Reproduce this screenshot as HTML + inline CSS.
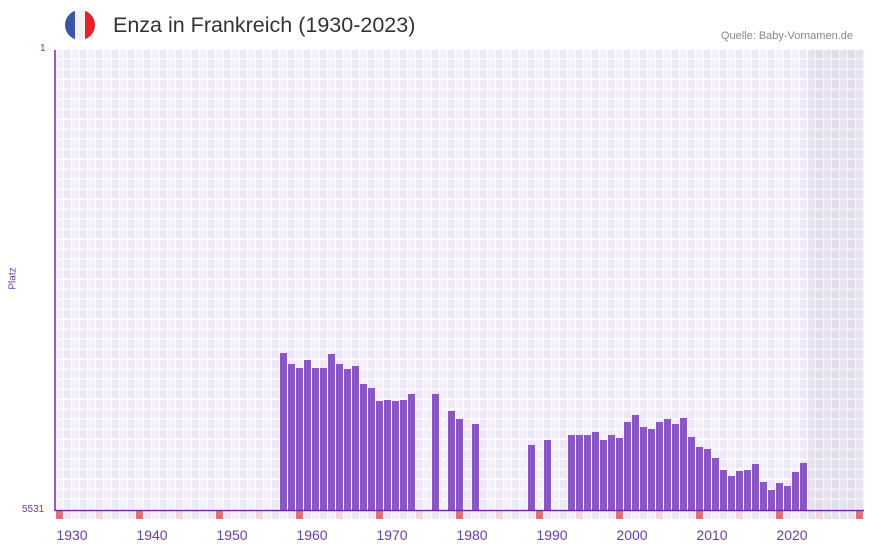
<!DOCTYPE html>
<html><head><meta charset="utf-8"><style>
body{margin:0;width:873px;height:552px;background:#fff;font-family:"Liberation Sans",sans-serif;position:relative;overflow:hidden}
.t{position:absolute;white-space:nowrap}
</style></head><body>
<svg width="873" height="552" style="position:absolute;left:0;top:0">
<defs>
<pattern id="g" x="56" y="50" width="16" height="10" patternUnits="userSpaceOnUse">
<rect width="16" height="10" fill="#fff"/>
<rect x="0" y="0" width="7" height="8.5" fill="#f3effb"/>
<rect x="8" y="0" width="7" height="8.5" fill="#ede7f8"/>
</pattern>
<pattern id="gg" x="56" y="50" width="16" height="10" patternUnits="userSpaceOnUse">
<rect width="16" height="10" fill="#f4f3f7"/>
<rect x="0" y="0" width="7" height="8.5" fill="#e6e2ef"/>
<rect x="8" y="0" width="7" height="8.5" fill="#e2dcec"/>
</pattern>
<clipPath id="c"><circle cx="80" cy="25" r="15"/></clipPath>
</defs>
<rect x="56" y="50" width="808" height="460" fill="url(#g)"/>
<rect x="808" y="50" width="56" height="460" fill="url(#gg)"/>
<g id="m"></g>
<g id="b" fill="#8c55c8"></g>
<line x1="55" y1="50" x2="55" y2="511" stroke="#6b2fa0" stroke-width="1.5"/>
<line x1="55" y1="510.5" x2="864" y2="510.5" stroke="#6b2fa0" stroke-width="1.5"/>
<g clip-path="url(#c)">
<rect x="65" y="10" width="10" height="30" fill="#3a55a4"/>
<rect x="75" y="10" width="10" height="30" fill="#f2f2f2"/>
<rect x="85" y="10" width="10" height="30" fill="#e52229"/>
</g>
</svg>
<div class="t" style="left:113px;top:13px;font-size:21.5px;color:#333">Enza in Frankreich (1930-2023)</div>
<div class="t" style="right:20px;top:30px;font-size:11px;color:#888">Quelle: Baby-Vornamen.de</div>
<div class="t" style="left:40px;top:43px;font-size:10px;color:#6b3fa0">1</div>
<div class="t" style="left:22px;top:504px;font-size:10px;color:#6b3fa0">5531</div>
<div class="t" style="left:2px;top:273px;font-size:10px;color:#6b3fa0;transform:rotate(-90deg)">Platz</div>
<div id="yl"></div>
<script>
var tops={28:353,29:364,30:368,31:360,32:368,33:368,34:354,35:364,36:369,37:366,38:384,39:388,40:401,41:400,42:401,43:400,44:394,47:394,49:411,50:419,52:424,59:445,61:440,64:435,65:435,66:435,67:432,68:440,69:435,70:438,71:422,72:415,73:427,74:429,75:422,76:419,77:424,78:418,79:437,80:447,81:449,82:458,83:470,84:476,85:471,86:470,87:464,88:482,89:490,90:483,91:486,92:472,93:463};
var ns="http://www.w3.org/2000/svg",b=document.getElementById('b'),m=document.getElementById('m');
for(var k in tops){var r=document.createElementNS(ns,'rect');r.setAttribute('x',56+8*k);r.setAttribute('y',tops[k]);r.setAttribute('width',7);r.setAttribute('height',510-tops[k]);b.appendChild(r);}
for(var i=0;i<101;i++){var r=document.createElementNS(ns,'rect');r.setAttribute('x',56+8*i);r.setAttribute('y',511);r.setAttribute('width',7);r.setAttribute('height',8);
r.setAttribute('fill',i%10==0?'#e5707a':(i%10==5?'#f5d6de':(i>=94?'#e6e2ef':(i%2?'#ede7f8':'#f3effb'))));m.appendChild(r);}
var h='';for(var j=0;j<10;j++){h+='<div class="t" style="left:'+(72+80*j-20)+'px;width:40px;text-align:center;top:527px;font-size:14px;color:#6b3fa0">'+(1930+10*j)+'</div>';}
document.getElementById('yl').innerHTML=h;
</script>
</body></html>
